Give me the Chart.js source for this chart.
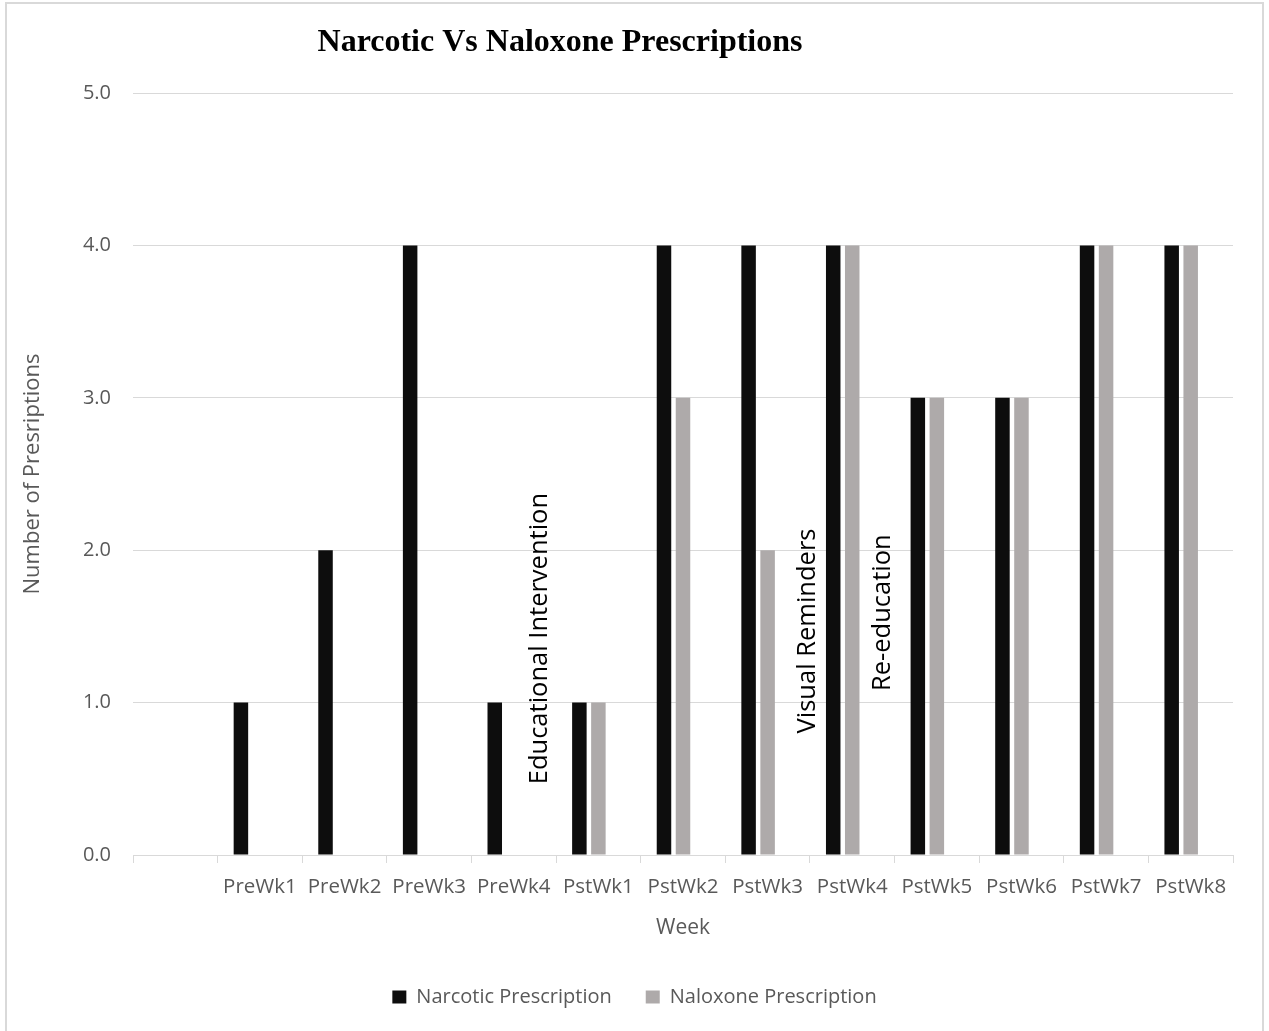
<!DOCTYPE html>
<html>
<head>
<meta charset="utf-8">
<title>Narcotic Vs Naloxone Prescriptions</title>
<script src="https://cdn.jsdelivr.net/npm/chart.js@4.4.1/dist/chart.umd.min.js"></script>
<style>
  html, body { margin: 0; padding: 0; background: #ffffff; }
  #wrap { position: relative; width: 1269px; height: 1031px; }
  canvas { display: block; }
</style>
</head>
<body>
<div id="wrap"><canvas id="chart" width="1269" height="1031"></canvas></div>
<script>
// Weekly prescription counts, before (Pre) and after (Pst) the intervention
const weeks = ['', 'PreWk1', 'PreWk2', 'PreWk3', 'PreWk4', 'PstWk1', 'PstWk2', 'PstWk3', 'PstWk4', 'PstWk5', 'PstWk6', 'PstWk7', 'PstWk8'];
const narcotic = [null, 1, 2, 4, 1, 1, 4, 4, 4, 3, 3, 4, 4];
const naloxone = [null, 0, 0, 0, 0, 1, 3, 2, 4, 3, 3, 4, 4];
// empty third series: keeps a third bar slot in each week group
const spacer = [null, null, null, null, null, null, null, null, null, null, null, null, null];
const yTicks = [0, 1, 2, 3, 4, 5];

// Vertical notes marking when each step of the intervention happened
const noteTexts = ['Educational Intervention', 'Visual Reminders', 'Re-education'];
const notePlacement = [
  { x: 4.31, y: 1.42 },
  { x: 7.47, y: 1.47 },
  { x: 8.36, y: 1.59 }
];

const TEXT = '#595959';
const GRID = '#d9d9d9';
const SANS = '"Open Sans", "DejaVu Sans", sans-serif';

const framePlugin = {
  id: 'frame',
  beforeDraw(chart) {
    const ctx = chart.ctx;
    ctx.save();
    ctx.fillStyle = '#ffffff';
    ctx.fillRect(0, 0, chart.width, chart.height);
    ctx.strokeStyle = GRID;
    ctx.lineWidth = 2;
    ctx.strokeRect(6, 3, chart.width - 12, chart.height + 10);
    ctx.restore();
  }
};

const titlePlugin = {
  id: 'sideTitle',
  afterDraw(chart) {
    const ctx = chart.ctx;
    ctx.save();
    ctx.font = 'bold 32px "Liberation Serif", "Times New Roman", serif';
    ctx.fillStyle = '#000000';
    ctx.textAlign = 'center';
    ctx.textBaseline = 'alphabetic';
    ctx.fillText('Narcotic Vs Naloxone Prescriptions', 560, 51);
    ctx.restore();
  }
};

const notesPlugin = {
  id: 'notes',
  afterDatasetsDraw(chart) {
    const ctx = chart.ctx;
    const xs = chart.scales.x, ys = chart.scales.y;
    ctx.save();
    ctx.font = '25.5px ' + SANS;
    ctx.fillStyle = '#000000';
    ctx.textAlign = 'center';
    ctx.textBaseline = 'middle';
    noteTexts.forEach((t, i) => {
      const px = xs.getPixelForValue(notePlacement[i].x);
      const py = ys.getPixelForValue(notePlacement[i].y);
      ctx.save();
      ctx.translate(px, py);
      ctx.rotate(-Math.PI / 2);
      ctx.fillText(t, 0, 0);
      ctx.restore();
    });
    ctx.restore();
  }
};

new Chart(document.getElementById('chart'), {
  type: 'bar',
  data: {
    labels: weeks,
    datasets: [
      { label: 'Narcotic Prescription', data: narcotic, backgroundColor: '#0d0d0d', borderWidth: 0 },
      { label: 'Naloxone Prescription', data: naloxone, backgroundColor: '#aeaaaa', borderWidth: 0 },
      { label: '', data: spacer, backgroundColor: 'rgba(0,0,0,0)', borderWidth: 0 }
    ]
  },
  options: {
    responsive: false,
    animation: false,
    devicePixelRatio: 1,
    categoryPercentage: 0.674,
    barPercentage: 0.763,
    layout: { padding: { top: 93, left: 0, right: 0, bottom: 14 } },
    plugins: {
      title: { display: false },
      tooltip: { enabled: false },
      legend: {
        position: 'bottom',
        labels: {
          filter: (item) => item.text !== '',
          color: TEXT,
          font: { family: SANS, size: 20 },
          boxWidth: 14,
          boxHeight: 13,
          padding: 34
        }
      }
    },
    scales: {
      x: {
        offset: true,
        grid: { drawOnChartArea: false, drawTicks: true, tickLength: 8, offset: true, color: GRID, lineWidth: 1 },
        border: { display: true, color: GRID, width: 1 },
        ticks: { color: TEXT, font: { family: SANS, size: 20.5 }, padding: 12, maxRotation: 0, autoSkip: false },
        title: { display: true, text: 'Week', color: TEXT, font: { family: SANS, size: 21 }, padding: { top: 0, bottom: 12 } },
        afterFit(s) { s.height = 98; }
      },
      y: {
        min: 0,
        max: 5,
        afterBuildTicks(s) { s.ticks = yTicks.map(v => ({ value: v })); },
        grid: { color: GRID, lineWidth: 1, drawTicks: false },
        border: { display: false },
        ticks: { color: TEXT, font: { family: SANS, size: 20 }, padding: 22, callback: (v) => Number(v).toFixed(1) },
        title: { display: true, text: 'Number of Presriptions', color: TEXT, font: { family: SANS, size: 22 }, padding: { top: 20, bottom: 0 } },
        afterFit(s) { s.width = 133; }
      },
      yRight: {
        position: 'right',
        display: true,
        grid: { display: false },
        border: { display: false },
        ticks: { display: false },
        afterFit(s) { s.width = 36; }
      }
    }
  },
  plugins: [framePlugin, titlePlugin, notesPlugin]
});
</script>
</body>
</html>
